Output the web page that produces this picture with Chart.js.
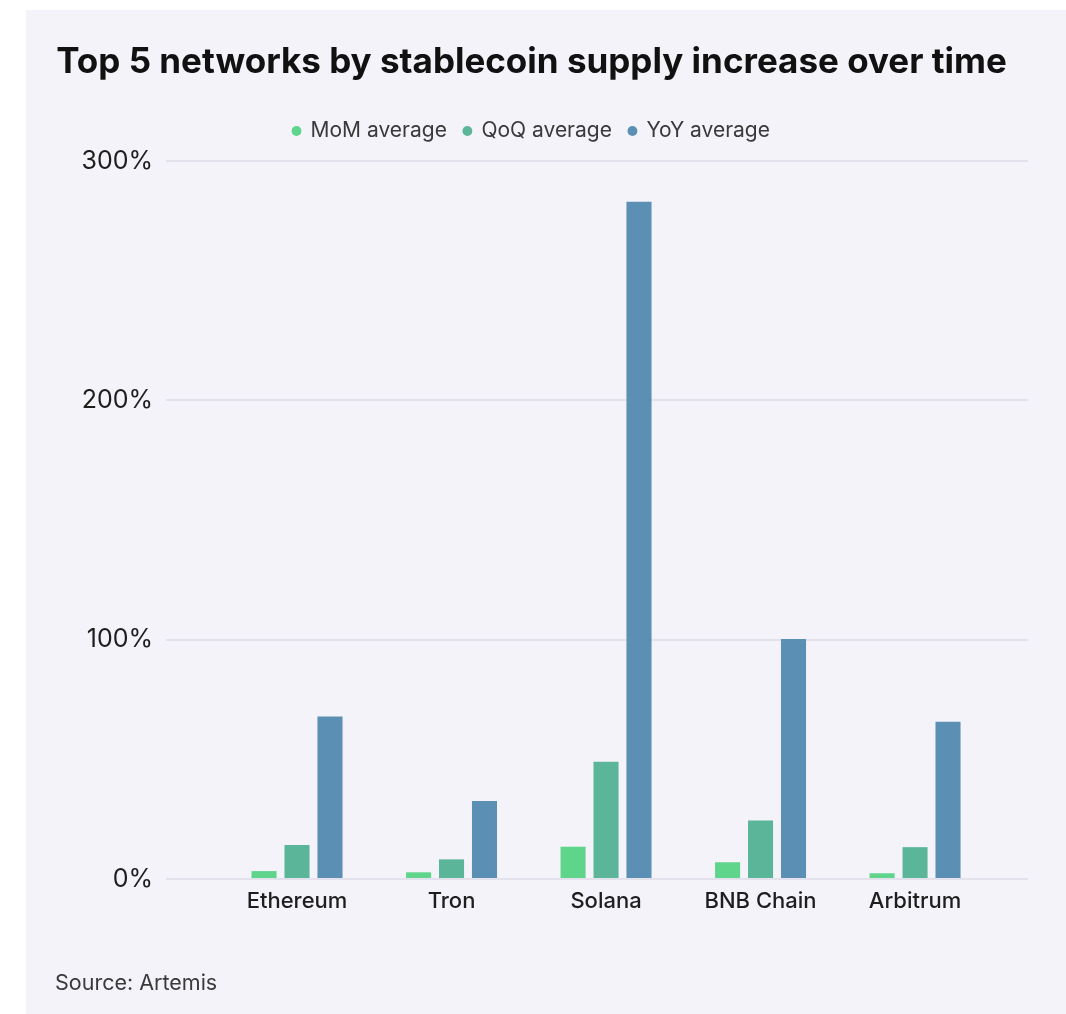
<!DOCTYPE html>
<html>
<head>
<meta charset="utf-8">
<script src="https://cdn.jsdelivr.net/npm/chart.js@4.4.1/dist/chart.umd.min.js"></script>
<style>
  html, body { margin: 0; padding: 0; background: #ffffff; }
  body { width: 1066px; height: 1014px; position: relative; overflow: hidden; }
  #panel { position: absolute; left: 26px; top: 10px; width: 1040px; height: 1004px; background: #f4f3f9; }
  #chart { position: absolute; left: 0; top: 0; width: 1040px; height: 1004px; }
  #source { position: absolute; left: 29px; top: 959px; font-family: Inter, sans-serif; font-size: 21.5px; color: #3a3a3a; }
</style>
</head>
<body>
<div id="panel">
  <div id="chart"><canvas id="c"></canvas></div>
  <div id="source">Source: Artemis</div>
</div>
<script>
const categories = ["Ethereum", "Tron", "Solana", "BNB Chain", "Arbitrum"];
const seriesNames = ["MoM average", "QoQ average", "YoY average"];
const momValues = [3.3, 2.8, 13.5, 7.0, 2.4];
const qoqValues = [14.2, 8.2, 49.0, 24.4, 13.3];
const yoyValues = [67.9, 32.6, 283.0, 100.3, 65.7];
const yTicks = [0, 100, 200, 300];
const colors = ["#5fd48b", "#5bb599", "#5b8fb4"];

const allSeries = [momValues, qoqValues, yoyValues];

const datasets = allSeries.map((vals, s) => ({
  label: seriesNames[s],
  data: vals.map((v, i) => ({ x: i, y: v })),
  backgroundColor: colors[s],
  borderWidth: 0,
  categoryPercentage: 0.64,
  barPercentage: 0.76
}));

new Chart(document.getElementById('c'), {
  type: 'bar',
  data: { datasets },
  options: {
    responsive: true,
    maintainAspectRatio: false,
    animation: false,
    layout: { padding: { left: 9, right: 38, top: 0, bottom: 95 } },
    plugins: {
      title: {
        display: true,
        text: 'Top 5 networks by stablecoin supply increase over time',
        align: 'center',
        color: '#111111',
        font: { family: 'Inter', size: 35, weight: '700' },
        padding: { top: 31, bottom: 20.5 }
      },
      subtitle: {
        display: true,
        text: '',
        position: 'top',
        weight: 500,
        font: { size: 1, lineHeight: 1 },
        padding: { top: 8.5, bottom: 0 }
      },
      legend: {
        display: true,
        position: 'top',
        align: 'center',
        labels: {
          usePointStyle: true,
          pointStyle: 'circle',
          boxWidth: 7,
          boxHeight: 7,
          padding: 17,
          color: '#3a3a3a',
          font: { family: 'Inter', size: 21, weight: '400' }
        }
      },
      tooltip: { enabled: false }
    },
    scales: {
      x: {
        type: 'linear',
        offset: false,
        min: -0.848,
        max: 4.731,
        grid: { display: false, drawTicks: false, offset: false },
        border: { display: false },
        afterBuildTicks: (scale) => { scale.ticks = categories.map((_, i) => ({ value: i })); },
        afterFit: (scale) => { scale.height = 40; },
        ticks: {
          autoSkip: false,
          maxRotation: 0,
          padding: 9,
          color: '#1e1e1e',
          font: { family: 'Inter', size: 22, weight: '500' },
          callback: (v) => categories[v] ?? ''
        }
      },
      y: {
        min: 0,
        max: 300,
        grid: { color: '#e2e1ec', lineWidth: 2, drawTicks: false },
        border: { display: false },
        afterBuildTicks: (scale) => { scale.ticks = yTicks.map(v => ({ value: v })); },
        afterFit: (scale) => { scale.width = 131; },
        ticks: {
          padding: 13,
          color: '#1e1e1e',
          font: { family: 'Inter', size: 25, weight: '400' },
          callback: (v) => v + '%'
        }
      }
    }
  }
});
</script>
</body>
</html>
